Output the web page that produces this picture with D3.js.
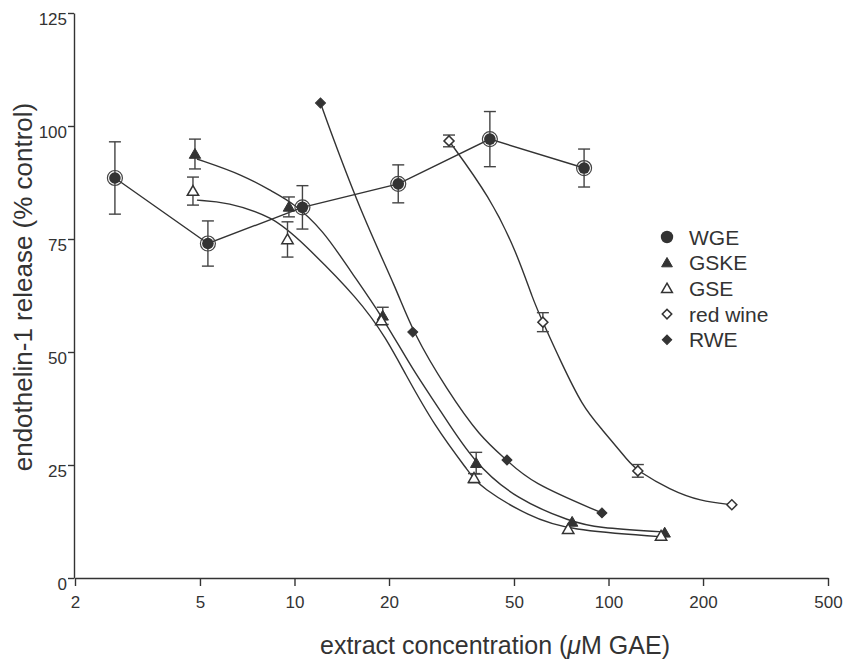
<!DOCTYPE html>
<html>
<head>
<meta charset="utf-8">
<script src="https://cdn.jsdelivr.net/npm/d3@7"></script>
<style>
	body { margin: 0; background: #fff; }
	svg text { font-family: "Liberation Sans", Arial, Helvetica, sans-serif; fill: #333; }
	.axis path, .axis line { stroke: #333; stroke-width: 1.4; }
	.axis text { font-size: 17px; }
	.fit, .conn { fill: none; stroke: #333; stroke-width: 1.4; }
	.err { stroke: #444; stroke-width: 1.4; fill: none; }
</style>
</head>
<body>
<div id="chart"></div>
<script>
// values: concentration (uM GAE), % control, +/- error
var wgeConc = [2.68, 5.3, 10.6, 21.4, 41.9, 83.6];
var wgeVal  = [88.5, 74.0, 82.0, 87.2, 97.1, 90.7];
var wgeErr  = [8.0, 5.0, 4.8, 4.2, 6.1, 4.2];

var gskeConc = [4.82, 9.6, 19.1, 37.9, 76.6, 151];
var gskeVal  = [93.8, 82.1, 58.0, 25.4, 12.4, 10.0];
var gskeErr  = [3.3, 2.2, 1.9, 2.4, 0, 0];

var gseConc = [4.75, 9.5, 18.9, 37.3, 74.4, 147];
var gseVal  = [85.6, 74.9, 57.0, 22.1, 10.8, 9.3];
var gseErr  = [3.1, 3.9, 0, 1.0, 0, 0];

var wineConc = [31.05, 61.8, 124, 247];
var wineVal  = [96.7, 56.6, 23.7, 16.2];
var wineErr  = [1.3, 2.1, 1.4, 0];

var rweConc = [12.1, 23.8, 47.5, 95.3];
var rweVal  = [105.1, 54.4, 26.1, 14.4];

// fitted curves
var gskeFitConc = [4.89, 6.86, 8.54, 9.89, 12.33, 15.0, 19.0, 23.8, 29.1, 37.0, 51.1, 76.5, 91.9, 149];
var gskeFitVal  = [92.7, 89.2, 85.4, 83.0, 77.0, 68.1, 58.0, 46.0, 37.2, 25.7, 17.3, 12.4, 11.1, 10.2];
var gseFitConc = [4.89, 6.10, 8.54, 10.41, 16.16, 19.7, 22.2, 28.0, 36.2, 39.0, 56.2, 74.3, 149];
var gseFitVal  = [83.6, 83.2, 79.9, 74.8, 61.5, 52.7, 46.0, 33.4, 23.2, 20.1, 13.5, 10.6, 9.1];
var rweFitConc = [12.1, 12.98, 16.5, 21.2, 23.8, 30.6, 39.0, 47.5, 56.2, 95.3];
var rweFitVal  = [105.1, 99.1, 79.9, 63.7, 54.4, 41.6, 31.2, 26.1, 21.2, 14.4];
var wineFitConc = [31.05, 41.9, 51.1, 57.5, 61.8, 70.1, 82.9, 94, 117, 124, 157, 196, 247];
var wineFitVal  = [96.7, 84.3, 71.9, 61.5, 56.6, 48.2, 37.8, 33.4, 25.4, 23.7, 19.5, 17.0, 16.2];

var xTicks = [2, 5, 10, 20, 50, 100, 200, 500];
var yTicks = [0, 25, 50, 75, 100, 125];
var legendNames = ["WGE", "GSKE", "GSE", "red wine", "RWE"];

var W = 844, H = 662;
var margin = { top: 13, right: 16, bot: 84, left: 75 };
var w = W - margin.left - margin.right, h = H - margin.top - margin.bot;

var xSc = d3.scaleLog().domain([2, 500]).range([0, w]);
var ySc = d3.scaleLinear().domain([0, 125]).range([h, 0]);

var svg = d3.select("#chart").append("svg").attr("width", W).attr("height", H);
var g = svg.append("g").attr("transform", "translate(" + margin.left + "," + margin.top + ")");

// axes
var yAxis = d3.axisLeft(ySc).tickValues(yTicks).tickSize(6).tickSizeOuter(0).tickPadding(1);
var xAxis = d3.axisBottom(xSc).tickValues(xTicks).tickFormat(d3.format("d")).tickSize(8).tickSizeOuter(0);

g.append("g").attr("class", "y axis").attr("transform", "translate(-1,0)").call(yAxis)
	.selectAll("text").attr("dy", "0.7em");
g.append("g").attr("class", "x axis").attr("transform", "translate(0," + h + ")").call(xAxis)
	.selectAll("text").attr("y", 18);

svg.append("text").attr("text-anchor", "middle").style("font-size", "26px")
	.attr("transform", "translate(32,287) rotate(-90)")
	.text("endothelin-1 release (% control)");
svg.append("text").attr("text-anchor", "middle").style("font-size", "25px")
	.attr("x", 495).attr("y", 654)
	.html("extract concentration (<tspan font-style=\"italic\">μ</tspan>M GAE)");

function zip(cs, vs, es) {
	return cs.map(function(c, i) { return { c: c, v: vs[i], e: es ? es[i] : 0 }; });
}

var curve = d3.line()
	.x(function(d) { return xSc(d.c); })
	.y(function(d) { return ySc(d.v); })
	.curve(d3.curveBasis);
var straight = d3.line()
	.x(function(d) { return xSc(d.c); })
	.y(function(d) { return ySc(d.v); });

// lines
[[gskeFitConc, gskeFitVal], [gseFitConc, gseFitVal], [rweFitConc, rweFitVal], [wineFitConc, wineFitVal]]
	.forEach(function(f) {
		g.append("path").attr("class", "fit").attr("d", curve(zip(f[0], f[1])));
	});
g.append("path").attr("class", "conn").attr("d", straight(zip(wgeConc, wgeVal)));

// series definitions
var series = [
	{ pts: zip(wgeConc, wgeVal, wgeErr), type: "circle" },
	{ pts: zip(gskeConc, gskeVal, gskeErr), type: "triF" },
	{ pts: zip(gseConc, gseVal, gseErr), type: "triO" },
	{ pts: zip(wineConc, wineVal, wineErr), type: "diaO" },
	{ pts: zip(rweConc, rweVal), type: "diaF" }
];

// error bars
series.forEach(function(s) {
	var eb = g.append("g").selectAll("g").data(s.pts.filter(function(d) { return d.e > 0; }))
		.enter().append("g").attr("class", "err");
	eb.append("line")
		.attr("x1", function(d) { return xSc(d.c); }).attr("x2", function(d) { return xSc(d.c); })
		.attr("y1", function(d) { return ySc(d.v + d.e); }).attr("y2", function(d) { return ySc(d.v - d.e); });
	[1, -1].forEach(function(sg) {
		eb.append("line")
			.attr("x1", function(d) { return xSc(d.c) - 6; }).attr("x2", function(d) { return xSc(d.c) + 6; })
			.attr("y1", function(d) { return ySc(d.v + sg * d.e); }).attr("y2", function(d) { return ySc(d.v + sg * d.e); });
	});
});

function drawMark(sel, type, sc) {
	sc = sc || 1;
	if (type == "circle") {
		sel.append("circle").attr("r", 7.5 * sc).attr("fill", "none").attr("stroke", "#444").attr("stroke-width", 1.2);
		sel.append("circle").attr("r", 5.8 * sc).attr("fill", "#333");
		return;
	}
	var tri = type.indexOf("tri") == 0;
	var sym = d3.symbol().type(tri ? d3.symbolTriangle : d3.symbolSquare).size(tri ? 56 * sc : 50 * sc);
	var filled = type.charAt(3) == "F";
	sel.append("path").attr("d", sym())
		.attr("transform", tri ? "translate(0,1)" : "rotate(45)")
		.attr("fill", filled ? "#333" : "#fff")
		.attr("stroke", "#333").attr("stroke-width", filled ? 1 : 1.5);
}

// markers
series.forEach(function(s) {
	g.append("g").selectAll("g").data(s.pts).enter().append("g")
		.attr("transform", function(d) { return "translate(" + xSc(d.c) + "," + ySc(d.v) + ")"; })
		.each(function() { drawMark(d3.select(this), s.type); });
});

// legend
var legend = svg.append("g").attr("class", "legend").attr("transform", "translate(667,237)");
var items = legend.selectAll("g").data(legendNames).enter().append("g")
	.attr("transform", function(d, i) { return "translate(0," + (i * 25.7) + ")"; });
items.each(function(d, i) {
	var it = d3.select(this);
	if (series[i].type == "circle") it.append("circle").attr("r", 6.2).attr("fill", "#333");
	else drawMark(it, series[i].type, 0.9);
	it.append("text").attr("x", 22).attr("dy", "0.36em").style("font-size", "21px").text(d);
});
</script>
</body>
</html>
